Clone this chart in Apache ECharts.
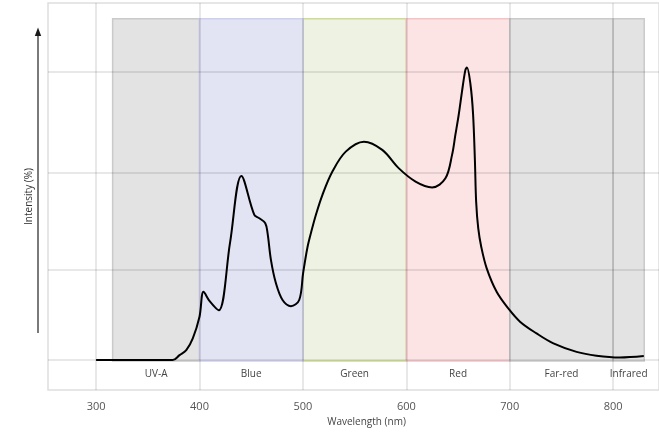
<!DOCTYPE html>
<html>
<head>
<meta charset="utf-8">
<script src="https://cdn.jsdelivr.net/npm/echarts@6/dist/echarts.min.js"></script>
<style>
html,body{margin:0;padding:0;background:#fff;}
#chart{width:659px;height:439px;}
</style>
</head>
<body>
<div id="chart"></div>
<script>
// ---- data ----
const wavelengths = [300,374,380.7,387.2,393.5,400,403.9,410,418.6,429.5,440.5,453,457.8,463.6,465.8,469.1,473.9,480.3,488.4,496.4,500.2,504.4,508,512.5,518.8,528.5,541.4,559,576.7,592.8,608.9,624.9,637.8,644.2,647.4,650.6,653.8,657.1,658.6,662,664.5,666.3,667.5,669.5,672.5,677.7,687.3,698.6,709.9,725.9,742.2,764.6,783.9,806.5,829.6];
const intensities = [0,0,1.7,3.4,7.4,14.8,23.3,20,17,40,62.8,49.5,48.4,46.7,43.3,34.1,26.2,20.5,18.4,20.5,29.7,38.5,43.7,49.5,56.3,64.3,71.1,74.5,71.7,65.4,60.9,58.9,62,70,76.8,83.6,91.6,99,99.8,94,84,68,54,45,38.5,31.3,23.3,17.6,13.1,9.1,5.7,2.8,1.5,0.9,1.4];

const bandNames = ['UV-A','Blue','Green','Red','Far-red','Infrared'];
const bandStart = [316,400,500,600,700,800];
const bandEnd   = [400,500,600,700,800,830];
const bandTop = 116.4;
const bandBottom = -0.3;

const xTicks = [300,400,500,600,700,800];
const yGridValues = [0,30.95,63.8,98.2];

const xMin = 253.5, xMax = 844.3;
const yMin = -10.2, yMax = 121.8;

// ---- styles ----
const bandStyles = {
  'UV-A':    {fill:'#e3e3e3', border:'#cacaca'},
  'Blue':    {fill:'#e2e3f3', border:'#cfcfee'},
  'Green':   {fill:'#eef2e2', border:'#cbdd92'},
  'Red':     {fill:'#fce3e4', border:'#f5c3c6'},
  'Far-red': {fill:'#e3e3e3', border:'#cacaca'},
  'Infrared':{fill:'#e3e3e3', border:'#cacaca'}
};
const drawOrder = ['Green','UV-A','Blue','Red','Far-red','Infrared'];
const FONT = 'Open Sans';

const bandItems = drawOrder.map(name => {
  const i = bandNames.indexOf(name);
  const st = bandStyles[name];
  return [
    {name: name, xAxis: bandStart[i], yAxis: bandBottom,
     itemStyle: {color: st.fill, borderColor: st.border, borderWidth: 1.5}},
    {xAxis: bandEnd[i], yAxis: bandTop}
  ];
});

const gridLineStyle = {color: 'rgba(0,0,0,0.12)', width: 1.5, type: 'solid'};
const lineItems = [];
xTicks.forEach(v => lineItems.push({xAxis: v}));
yGridValues.forEach(v => lineItems.push({yAxis: v}));

const chart = echarts.init(document.getElementById('chart'), null, {renderer: 'canvas'});
chart.setOption({
  animation: false,
  backgroundColor: '#fff',
  textStyle: {fontFamily: FONT},
  grid: {left: 48, right: -2, top: 3, bottom: 49, show: true,
         borderColor: '#dedede', borderWidth: 1.5, backgroundColor: 'transparent'},
  xAxis: {
    type: 'value', min: xMin, max: xMax,
    axisLine: {show: false}, axisTick: {show: false}, splitLine: {show: false},
    axisLabel: {customValues: xTicks, fontSize: 11, color: '#555', margin: 11, fontFamily: FONT},
    name: 'Wavelength (nm)', nameLocation: 'middle', nameGap: 26,
    nameTextStyle: {fontSize: 10, color: '#444', padding: [0,0,0,26], fontFamily: FONT}
  },
  yAxis: {
    type: 'value', min: yMin, max: yMax,
    axisLine: {show: false}, axisTick: {show: false}, splitLine: {show: false},
    axisLabel: {show: false},
    name: 'Intensity (%)', nameLocation: 'middle', nameGap: 14, nameRotate: 90,
    nameTextStyle: {fontSize: 10, color: '#333', fontFamily: FONT}
  },
  graphic: [
    {type: 'line', shape: {x1: 38, y1: 333, x2: 38, y2: 35},
     style: {stroke: '#7a7a7a', lineWidth: 2}},
    {type: 'polygon', shape: {points: [[34.8,36],[41.2,36],[38,27.5]]},
     style: {fill: '#1a1a1a'}}
  ],
  series: [
    {
      type: 'line', data: [], z: 1, silent: true,
      markArea: {
        silent: true,
        label: {show: true, position: 'bottom', distance: 7, fontSize: 10, color: '#444', fontFamily: FONT},
        data: bandItems
      }
    },
    {
      type: 'line', data: [], z: 2, silent: true,
      markLine: {
        silent: true, symbol: ['none','none'], label: {show: false},
        lineStyle: gridLineStyle,
        data: lineItems
      }
    },
    {
      type: 'line', z: 3, silent: true,
      data: wavelengths.map((w, i) => [w, intensities[i]]),
      showSymbol: false, smooth: 0.35,
      lineStyle: {color: '#000', width: 2}
    }
  ]
});
</script>
</body>
</html>
